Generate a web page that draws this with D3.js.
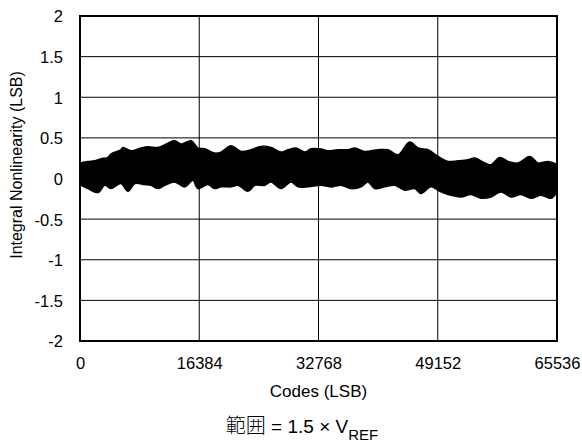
<!DOCTYPE html>
<html>
<head>
<meta charset="utf-8">
<script src="https://cdn.jsdelivr.net/npm/d3@7"></script>
<style>
  html, body { margin: 0; padding: 0; background: #fff; }
  text { font-family: "Liberation Sans", Arial, Helvetica, sans-serif; fill: #000; }
</style>
</head>
<body>
<svg id="chart" width="582" height="445"></svg>
<script>
// ---- data ----
const xTicks = [0, 16384, 32768, 49152, 65536];
const yTicks = [-2, -1.5, -1, -0.5, 0, 0.5, 1, 1.5, 2];
const yTickLabels = ["-2", "-1.5", "-1", "-0.5", "0", "0.5", "1", "1.5", "2"];

// upper envelope of INL band: codes and values (LSB)
const upperCodes = [0, 179, 1099, 2020, 2885, 3847, 4259, 5633, 5908, 7007, 8381, 9343, 10717, 12091, 13012, 13877, 15251, 16213, 17133, 18507, 19373, 20747, 22121, 23495, 24869, 26243, 27617, 28579, 29678, 30915, 31739, 33113, 34075, 35449, 36823, 37743, 39117, 40944, 42318, 43692, 45300, 46440, 47814, 49188, 50562, 51936, 53310, 54230, 55604, 56469, 57664, 58804, 60178, 61786, 62926, 64300, 65400, 65536];
const upperVals  = [0.17, 0.187, 0.207, 0.215, 0.24, 0.256, 0.298, 0.351, 0.379, 0.338, 0.372, 0.388, 0.379, 0.433, 0.462, 0.421, 0.462, 0.372, 0.363, 0.31, 0.322, 0.40, 0.33, 0.351, 0.391, 0.379, 0.322, 0.351, 0.372, 0.322, 0.363, 0.36, 0.338, 0.351, 0.351, 0.372, 0.33, 0.351, 0.351, 0.289, 0.446, 0.372, 0.351, 0.268, 0.207, 0.215, 0.228, 0.249, 0.187, 0.166, 0.256, 0.207, 0.187, 0.268, 0.187, 0.207, 0.175, 0.16];

// lower envelope of INL band
const lowerCodes = [0, 179, 1099, 2473, 3394, 4259, 5633, 6595, 7516, 8890, 9755, 10717, 11638, 13012, 14386, 15526, 16213, 17587, 18507, 19373, 20747, 21709, 23083, 24004, 25378, 26243, 27617, 28991, 29953, 31327, 33113, 34487, 35861, 37235, 38610, 39571, 40492, 41866, 43240, 44614, 45988, 46853, 48227, 49600, 50974, 52348, 53722, 55096, 56469, 57843, 59217, 60591, 61965, 63339, 64713, 65400, 65536];
const lowerVals  = [-0.06, -0.08, -0.121, -0.17, -0.08, -0.121, -0.059, -0.154, -0.059, -0.071, -0.08, -0.121, -0.08, -0.039, -0.10, -0.018, -0.121, -0.071, -0.121, -0.10, -0.10, -0.08, -0.154, -0.08, -0.08, -0.039, -0.121, -0.039, -0.10, -0.10, -0.08, -0.10, -0.08, -0.121, -0.10, -0.039, -0.121, -0.10, -0.08, -0.142, -0.121, -0.182, -0.10, -0.162, -0.203, -0.224, -0.194, -0.24, -0.224, -0.162, -0.224, -0.194, -0.24, -0.203, -0.24, -0.182, -0.17];

// ---- layout ----
const svg = d3.select("#chart");
const mLeft = 80, mRight = 557, mTop = 16, mBottom = 341;

const x = d3.scaleLinear().domain([0, 65536]).range([mLeft, mRight]);
const y = d3.scaleLinear().domain([-2, 2]).range([mBottom, mTop]);

// gridlines
const g = svg.append("g");
g.selectAll("line.hgrid").data(yTicks.filter(d => d > -2 && d < 2)).join("line")
  .attr("class", "hgrid")
  .attr("x1", mLeft).attr("x2", mRight)
  .attr("y1", d => y(d)).attr("y2", d => y(d))
  .attr("stroke", "#000").attr("stroke-width", 1);
g.selectAll("line.vgrid").data(xTicks.filter(d => d > 0 && d < 65536)).join("line")
  .attr("class", "vgrid")
  .attr("x1", d => x(d)).attr("x2", d => x(d))
  .attr("y1", mTop).attr("y2", mBottom)
  .attr("stroke", "#000").attr("stroke-width", 1);

// band: build polygon from upper and lower envelopes
const upperPts = upperCodes.map((c, i) => [x(c), y(upperVals[i])]);
const lowerPts = lowerCodes.map((c, i) => [x(c), y(lowerVals[i])]);
const lineGen = d3.line().curve(d3.curveCatmullRom.alpha(0.5));
const upperPath = lineGen(upperPts);
const lowerPath = lineGen(lowerPts.slice().reverse());
const clipId = "plotclip";
svg.append("clipPath").attr("id", clipId).append("rect")
  .attr("x", mLeft).attr("y", mTop).attr("width", mRight - mLeft).attr("height", mBottom - mTop);
svg.append("path")
  .attr("clip-path", `url(#${clipId})`)
  .attr("d", upperPath + "L" + lowerPath.slice(1) + "Z")
  .attr("fill", "#000").attr("stroke", "#000").attr("stroke-width", 2)
  .attr("stroke-linejoin", "round");

// frame
svg.append("rect")
  .attr("x", mLeft).attr("y", mTop).attr("width", mRight - mLeft).attr("height", mBottom - mTop)
  .attr("fill", "none").attr("stroke", "#000").attr("stroke-width", 2);

// axes (labels only)
const xAxis = d3.axisBottom(x).tickValues(xTicks).tickSize(0).tickPadding(0).tickFormat(d => String(d));
const xg = svg.append("g").attr("transform", `translate(0,${mBottom})`).call(xAxis);
xg.select(".domain").remove();
xg.selectAll("text").attr("dy", null).attr("y", 28).style("font-size", "16.5px")
  .style("font-family", '"Liberation Sans", Arial, sans-serif').attr("fill", "#000");

const yAxis = d3.axisLeft(y).tickValues(yTicks).tickSize(0).tickPadding(0)
  .tickFormat((d, i) => yTickLabels[i]);
const yg = svg.append("g").attr("transform", `translate(${mLeft},0)`).call(yAxis);
yg.select(".domain").remove();
yg.selectAll("text").attr("x", -17).attr("dy", "0.36em").style("font-size", "16.5px")
  .style("font-family", '"Liberation Sans", Arial, sans-serif').attr("fill", "#000");

// axis titles
svg.append("text")
  .attr("transform", `translate(22,165) rotate(-90)`)
  .attr("text-anchor", "middle")
  .style("font-size", "16px")
  .text("Integral Nonlinearity (LSB)");

svg.append("text")
  .attr("x", (mLeft + mRight) / 2).attr("y", 397)
  .attr("text-anchor", "middle")
  .style("font-size", "17px")
  .text("Codes (LSB)");

const cap = svg.append("text")
  .attr("x", 302).attr("y", 433)
  .attr("text-anchor", "middle")
  .style("font-size", "19px");
cap.append("tspan").style("font-family", '"Noto Sans CJK JP", "Noto Sans CJK SC", sans-serif').style("font-weight", "300").style("font-size", "20px").text("範囲");
cap.append("tspan").text(" = 1.5 × V");
cap.append("tspan").attr("dy", 7).style("font-size", "15px").text("REF");
</script>
</body>
</html>
